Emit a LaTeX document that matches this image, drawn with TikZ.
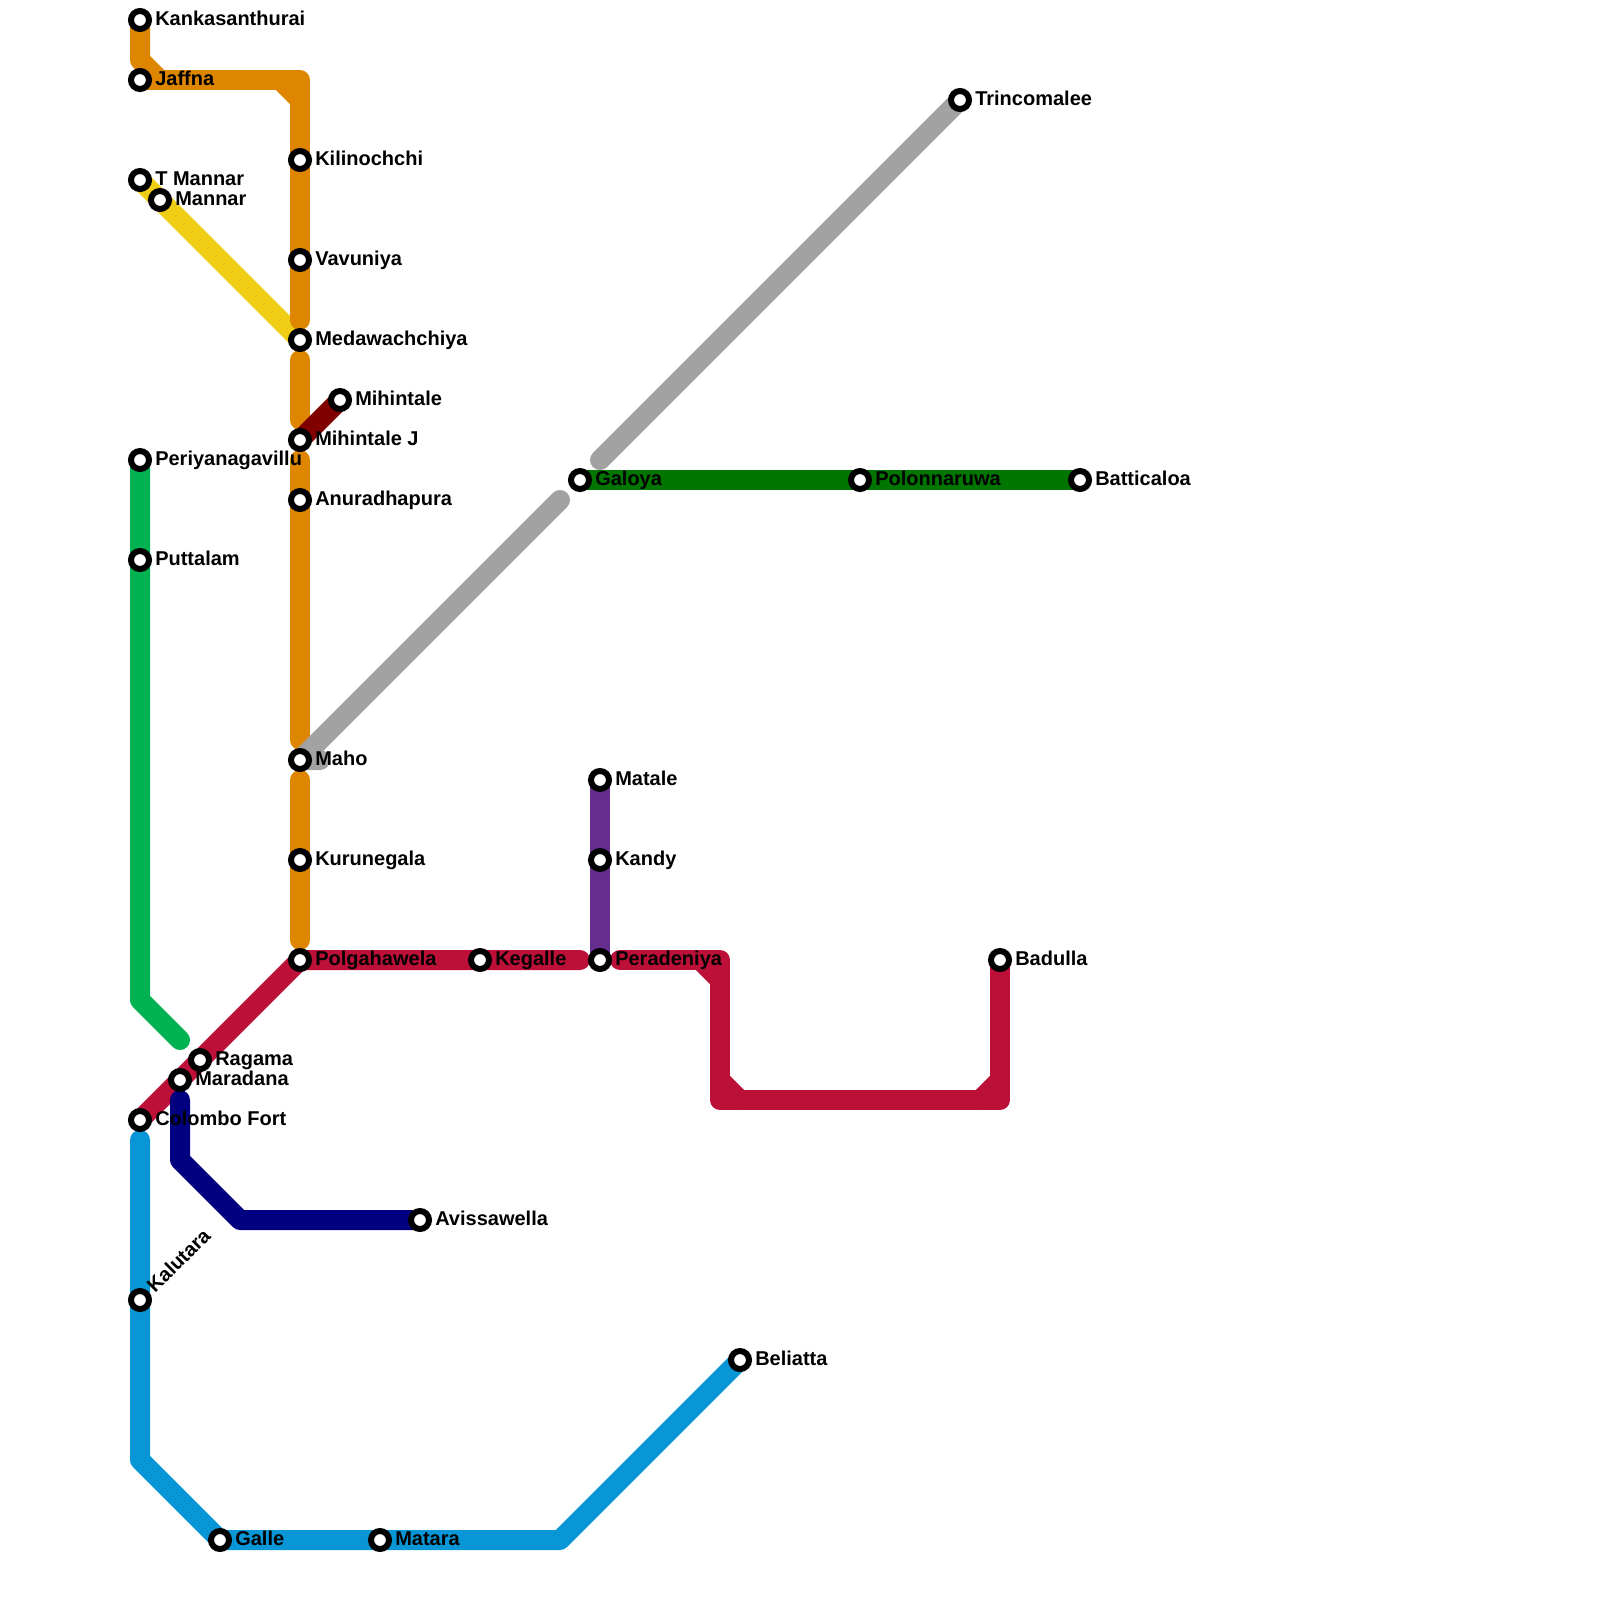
\documentclass[tikz,border=0pt]{standalone}
\usepackage{fontspec}
\setmainfont{Liberation Sans}
\usetikzlibrary{backgrounds,calc}
\newcommand\s{15pt}
\definecolor{orangeline}{HTML}{DF8600}
\definecolor{crimsonline}{HTML}{BD1038}
\definecolor{yellowline}{HTML}{F0CE15}
\definecolor{greenline}{HTML}{00B251}
\definecolor{navyline}{HTML}{000080}
\definecolor{blueline}{HTML}{0896D7}
\definecolor{greyline}{HTML}{A2A2A2}
\definecolor{purpleline}{HTML}{662C90}
\definecolor{maroonline}{HTML}{800000}
\definecolor{darkgreenline}{HTML}{007500}
\begin{document}
\begin{tikzpicture}[
      x=\s,
      y=-\s,
      stn/.style = {
        circle,
        draw=black,
        fill=white,
        line width=4.5pt,
        inner sep=0pt,
        outer sep=0pt,
        minimum size=13.5pt,
      },
      lbl/.style = {
        anchor=base west,
        inner sep=0pt,
        font=\fontsize{15pt}{15pt}\selectfont\bfseries,
      },
      rail/.style = {
        line width=15pt,
        line cap=round,
        line join=round,
      },
    ]
      \useasboundingbox (0, 0) rectangle (80, 80);
      \node[stn] (kankasanthurai) at (7, 1) {};
      \node[stn] (jaffna) at (7, 4) {};
      \node[stn] (tmannar) at (7, 9) {};
      \node[stn] (mannar) at (8, 10) {};
      \node[stn] (kilinochchi) at (15, 8) {};
      \node[stn] (vavuniya) at (15, 13) {};
      \node[stn] (medawachchiya) at (15, 17) {};
      \node[stn] (mihintale) at (17, 20) {};
      \node[stn] (mihintalej) at (15, 22) {};
      \node[stn] (anuradhapura) at (15, 25) {};
      \node[stn] (maho) at (15, 38) {};
      \node[stn] (kurunegala) at (15, 43) {};
      \node[stn] (polgahawela) at (15, 48) {};
      \node[stn] (kegalle) at (24, 48) {};
      \node[stn] (peradeniya) at (30, 48) {};
      \node[stn] (matale) at (30, 39) {};
      \node[stn] (kandy) at (30, 43) {};
      \node[stn] (galoya) at (29, 24) {};
      \node[stn] (polonnaruwa) at (43, 24) {};
      \node[stn] (batticaloa) at (54, 24) {};
      \node[stn] (trincomalee) at (48, 5) {};
      \node[stn] (periyanagavillu) at (7, 23) {};
      \node[stn] (puttalam) at (7, 28) {};
      \node[stn] (ragama) at (10, 53) {};
      \node[stn] (maradana) at (9, 54) {};
      \node[stn] (colombofort) at (7, 56) {};
      \node[stn] (avissawella) at (21, 61) {};
      \node[stn] (kalutara) at (7, 65) {};
      \node[stn] (galle) at (11, 77) {};
      \node[stn] (matara) at (19, 77) {};
      \node[stn] (beliatta) at (37, 68) {};
      \node[stn] (badulla) at (50, 48) {};

      \node[lbl] (lkankasanthurai) at ($(kankasanthurai) + (0.75, 0.25)$) {Kankasanthurai};
      \node[lbl] (ljaffna) at ($(jaffna) + (0.75, 0.25)$) {Jaffna};
      \node[lbl] (ltmannar) at ($(tmannar) + (0.75, 0.25)$) {T Mannar};
      \node[lbl] (lmannar) at ($(mannar) + (0.75, 0.25)$) {Mannar};
      \node[lbl] (lkilinochchi) at ($(kilinochchi) + (0.75, 0.25)$) {Kilinochchi};
      \node[lbl] (lvavuniya) at ($(vavuniya) + (0.75, 0.25)$) {Vavuniya};
      \node[lbl] (lmedawachchiya) at ($(medawachchiya) + (0.75, 0.25)$) {Medawachchiya};
      \node[lbl] (lmihintale) at ($(mihintale) + (0.75, 0.25)$) {Mihintale};
      \node[lbl] (lmihintalej) at ($(mihintalej) + (0.75, 0.25)$) {Mihintale J};
      \node[lbl] (lanuradhapura) at ($(anuradhapura) + (0.75, 0.25)$) {Anuradhapura};
      \node[lbl] (lmaho) at ($(maho) + (0.75, 0.25)$) {Maho};
      \node[lbl] (lkurunegala) at ($(kurunegala) + (0.75, 0.25)$) {Kurunegala};
      \node[lbl] (lpolgahawela) at ($(polgahawela) + (0.75, 0.25)$) {Polgahawela};
      \node[lbl] (lkegalle) at ($(kegalle) + (0.75, 0.25)$) {Kegalle};
      \node[lbl] (lperadeniya) at ($(peradeniya) + (0.75, 0.25)$) {Peradeniya};
      \node[lbl] (lmatale) at ($(matale) + (0.75, 0.25)$) {Matale};
      \node[lbl] (lkandy) at ($(kandy) + (0.75, 0.25)$) {Kandy};
      \node[lbl] (lgaloya) at ($(galoya) + (0.75, 0.25)$) {Galoya};
      \node[lbl] (lpolonnaruwa) at ($(polonnaruwa) + (0.75, 0.25)$) {Polonnaruwa};
      \node[lbl] (lbatticaloa) at ($(batticaloa) + (0.75, 0.25)$) {Batticaloa};
      \node[lbl] (ltrincomalee) at ($(trincomalee) + (0.75, 0.25)$) {Trincomalee};
      \node[lbl] (lperiyanagavillu) at ($(periyanagavillu) + (0.75, 0.25)$) {Periyanagavillu};
      \node[lbl] (lputtalam) at ($(puttalam) + (0.75, 0.25)$) {Puttalam};
      \node[lbl] (lragama) at ($(ragama) + (0.75, 0.25)$) {Ragama};
      \node[lbl] (lmaradana) at ($(maradana) + (0.75, 0.25)$) {Maradana};
      \node[lbl] (lcolombofort) at ($(colombofort) + (0.75, 0.25)$) {Colombo Fort};
      \node[lbl] (lavissawella) at ($(avissawella) + (0.75, 0.25)$) {Avissawella};
      \node[lbl, rotate=45] (lkalutara) at ($(kalutara) + (0.75, -0.3)$) {Kalutara};
      \node[lbl] (lgalle) at ($(galle) + (0.75, 0.25)$) {Galle};
      \node[lbl] (lmatara) at ($(matara) + (0.75, 0.25)$) {Matara};
      \node[lbl] (lbeliatta) at ($(beliatta) + (0.75, 0.25)$) {Beliatta};
      \node[lbl] (lbadulla) at ($(badulla) + (0.75, 0.25)$) {Badulla};

      \coordinate (o1) at (7, 3);
      \coordinate (o2) at (8, 4);
      \coordinate (o3) at (14, 4);
      \coordinate (o4) at (15, 4);
      \coordinate (o5) at (15, 5);
      \coordinate (o6) at (15, 16);
      \coordinate (o7) at (15, 18);
      \coordinate (o8) at (15, 21);
      \coordinate (o9) at (15, 23);
      \coordinate (o10) at (15, 37);
      \coordinate (o11) at (15, 39);
      \coordinate (o12) at (15, 47);
      \coordinate (c1) at (29, 48);
      \coordinate (c2) at (31, 48);
      \coordinate (c3) at (35, 48);
      \coordinate (c4) at (36, 48);
      \coordinate (c5) at (36, 49);
      \coordinate (c6) at (36, 54);
      \coordinate (c7) at (36, 55);
      \coordinate (c8) at (37, 55);
      \coordinate (c9) at (49, 55);
      \coordinate (c10) at (50, 55);
      \coordinate (c11) at (50, 54);
      \coordinate (g1) at (30, 23);
      \coordinate (g2) at (28, 25);
      \coordinate (g3) at (16, 38);
      \coordinate (e1) at (7, 50);
      \coordinate (e2) at (9, 52);
      \coordinate (n1) at (9, 55);
      \coordinate (n2) at (9, 58);
      \coordinate (n3) at (12, 61);
      \coordinate (b1) at (7, 57);
      \coordinate (b2) at (7, 73);
      \coordinate (b3) at (28, 77);

      \begin{scope}[on background layer]
        \draw[rail, yellowline] (tmannar.center) -- (mannar.center) -- (medawachchiya.center);
        \draw[rail, orangeline] (kankasanthurai.center) -- (o1) -- (o2);
        \draw[rail, orangeline] (jaffna.center) -- (o4) -- (kilinochchi.center) -- (vavuniya.center) -- (o6);
        \draw[rail, orangeline] (o3) -- (o5);
        \draw[rail, orangeline] (o7) -- (o8);
        \draw[rail, orangeline] (o9) -- (anuradhapura.center) -- (o10);
        \draw[rail, orangeline] (o11) -- (kurunegala.center) -- (o12);
        \draw[rail, greyline] (trincomalee.center) -- (g1);
        \draw[rail, greyline] (g2) -- (maho.center) -- (g3);
        \draw[rail, maroonline] (mihintalej.center) -- (mihintale.center);
        \draw[rail, darkgreenline] (galoya.center) -- (polonnaruwa.center) -- (batticaloa.center);
        \draw[rail, greenline] (periyanagavillu.center) -- (puttalam.center) -- (e1) -- (e2);
        \draw[rail, purpleline] (matale.center) -- (kandy.center) -- (peradeniya.center);
        \draw[rail, crimsonline] (colombofort.center) -- (maradana.center) -- (ragama.center) -- (polgahawela.center) -- (kegalle.center) -- (c1);
        \draw[rail, crimsonline] (c2) -- (c4) -- (c7) -- (c10) -- (badulla.center);
        \draw[rail, crimsonline] (c3) -- (c5);
        \draw[rail, crimsonline] (c6) -- (c8);
        \draw[rail, crimsonline] (c9) -- (c11);
        \draw[rail, navyline] (n1) -- (n2) -- (n3) -- (avissawella.center);
        \draw[rail, blueline] (b1) -- (kalutara.center) -- (b2) -- (galle.center) -- (matara.center) -- (b3) -- (beliatta.center);
      \end{scope}
    \end{tikzpicture}
\end{document}
